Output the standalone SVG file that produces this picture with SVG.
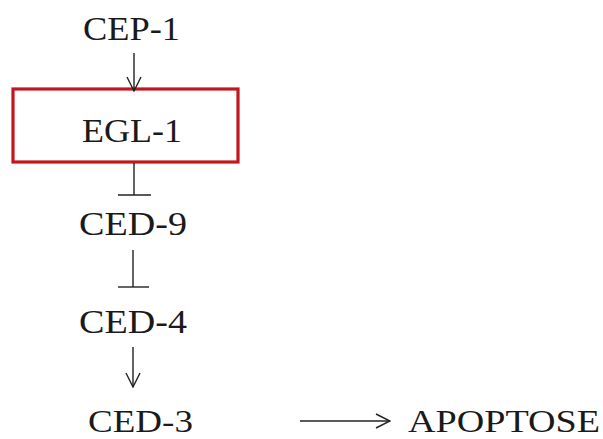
<svg xmlns="http://www.w3.org/2000/svg" width="603" height="439" viewBox="0 0 603 439">
<style>
text{font-family:"Liberation Serif","Times New Roman",serif;font-size:33px;fill:#1a1a1a}
.b{font-size:31px}
.c{stroke:#222;stroke-width:1.4;fill:none}
</style>
<defs>
<marker id="ah" viewBox="0 0 16 16" refX="15" refY="8" markerWidth="16" markerHeight="16" markerUnits="userSpaceOnUse" orient="auto">
<path d="M1,1 L15,8 L1,15" fill="none" stroke="#222" stroke-width="1.4"/>
</marker>
</defs>
<rect width="603" height="439" fill="#fff"/>
<g id="cep1"><text x="83" y="40" textLength="97" lengthAdjust="spacingAndGlyphs">CEP-1</text></g>
<g id="egl1"><rect x="13" y="89" width="225" height="73" fill="none" stroke="#c4161c" stroke-width="3.2"/><text x="82" y="142" textLength="100" lengthAdjust="spacingAndGlyphs">EGL-1</text></g>
<g id="ced9"><text x="79" y="235" textLength="108" lengthAdjust="spacingAndGlyphs">CED-9</text></g>
<g id="ced4"><text x="79" y="333" textLength="108" lengthAdjust="spacingAndGlyphs">CED-4</text></g>
<g id="ced3"><text class="b" x="88" y="432" textLength="105" lengthAdjust="spacingAndGlyphs">CED-3</text></g>
<g id="apoptose"><text class="b" x="408" y="432" textLength="192" lengthAdjust="spacingAndGlyphs">APOPTOSE</text></g>
<g id="connectors">
<line class="c" x1="134" y1="53" x2="134" y2="91" marker-end="url(#ah)"/>
<line class="c" x1="134" y1="163" x2="134" y2="195"/>
<line class="c" x1="118" y1="195" x2="151" y2="195"/>
<line class="c" x1="133" y1="250" x2="133" y2="287"/>
<line class="c" x1="118" y1="287" x2="149" y2="287"/>
<line class="c" x1="133" y1="347" x2="133" y2="387" marker-end="url(#ah)"/>
<line class="c" x1="300" y1="421" x2="390" y2="421" marker-end="url(#ah)"/>
</g>
</svg>
